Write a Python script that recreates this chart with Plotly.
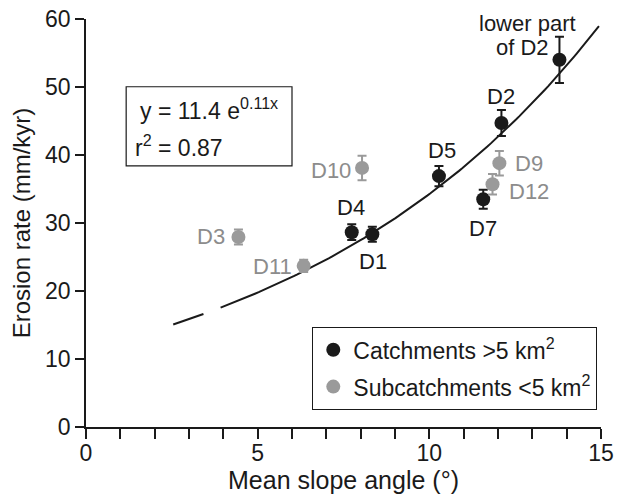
import numpy as np
import plotly.graph_objects as go

# ---- data ----
catch_names = ["lower part of D2", "D2", "D5", "D7", "D4", "D1"]
catch_x = [13.79, 12.10, 10.28, 11.57, 7.74, 8.34]
catch_y = [54.0, 44.7, 36.9, 33.5, 28.65, 28.35]
catch_err = [3.4, 1.9, 1.5, 1.4, 1.15, 1.1]

sub_names = ["D10", "D9", "D12", "D3", "D11"]
sub_x = [8.04, 12.04, 11.84, 4.44, 6.34]
sub_y = [38.1, 38.8, 35.7, 27.95, 23.7]
sub_err = [1.8, 1.8, 1.5, 1.1, 0.9]

fit_a = 11.4
fit_b = 0.11
fit_dash_x = [2.54, 3.42]
fit_solid_x = [3.92, 14.94]

x_tickvals = list(range(0, 16))
x_ticktext = ["0", "", "", "", "", "5", "", "", "", "", "10", "", "", "", "", "15"]
y_tickvals = [0, 10, 20, 30, 40, 50, 60]

FONT = "Liberation Sans, Arial, sans-serif"
BLACK = "#1a1a1a"
GRAY = "#9a9a9a"
GRAY_TXT = "#8c8c8c"

fig = go.Figure()

def curve(x0, x1):
    xs = np.linspace(x0, x1, 120)
    return xs, fit_a * np.exp(fit_b * xs)

xs, ys = curve(*fit_dash_x)
fig.add_trace(go.Scatter(x=xs, y=ys, mode="lines", line=dict(color=BLACK, width=2),
                         showlegend=False, hoverinfo="skip"))
xs, ys = curve(*fit_solid_x)
fig.add_trace(go.Scatter(x=xs, y=ys, mode="lines", line=dict(color=BLACK, width=2),
                         showlegend=False, hoverinfo="skip"))

fig.add_trace(go.Scatter(
    x=catch_x, y=catch_y, mode="markers", name="Catchments >5 km<sup>2</sup>",
    legendgroup="a",
    marker=dict(color=BLACK, size=14),
    error_y=dict(type="data", array=catch_err, color=BLACK, thickness=2, width=4.5),
))
fig.add_trace(go.Scatter(
    x=sub_x, y=sub_y, mode="markers", name="Subcatchments <5 km<sup>2</sup>",
    legendgroup="b",
    marker=dict(color=GRAY, size=14),
    error_y=dict(type="data", array=sub_err, color=GRAY, thickness=2, width=4.5),
))

# labels: (text, x, y, xanchor, xshift, yshift, color)
label_specs = [
    ("lower part", catch_x[0], catch_y[0], "center", -32, 36, BLACK),
    ("of D2", catch_x[0], catch_y[0], "right", -8, 12, BLACK),
    ("D2", catch_x[1], catch_y[1], "center", 0, 27, BLACK),
    ("D5", catch_x[2], catch_y[2], "center", 3, 26, BLACK),
    ("D7", catch_x[3], catch_y[3], "center", 0, -29, BLACK),
    ("D4", catch_x[4], catch_y[4], "center", -1, 25, BLACK),
    ("D1", catch_x[5], catch_y[5], "center", 1, -27, BLACK),
    ("D10", sub_x[0], sub_y[0], "right", -9, -3, GRAY_TXT),
    ("D9", sub_x[1], sub_y[1], "left", 14, 0, GRAY_TXT),
    ("D12", sub_x[2], sub_y[2], "left", 14, -7, GRAY_TXT),
    ("D3", sub_x[3], sub_y[3], "right", -11, 0, GRAY_TXT),
    ("D11", sub_x[4], sub_y[4], "right", -10, -1, GRAY_TXT),
]
for txt, x, y, xa, xsh, ysh, col in label_specs:
    fig.add_annotation(x=x, y=y, text=txt, showarrow=False, xanchor=xa, yanchor="middle",
                       xshift=xsh, yshift=ysh, font=dict(family=FONT, size=22, color=col))

# equation box
fig.add_shape(type="rect", xref="paper", yref="paper", x0=0.078, x1=0.40, y0=0.640, y1=0.834,
              line=dict(color=BLACK, width=1.2), fillcolor="white", layer="below")
fig.add_annotation(xref="paper", yref="paper", x=0.100, y=0.779, xanchor="left", yanchor="middle",
                   text=f"y = {fit_a} e<sup>{fit_b}x</sup>", showarrow=False,
                   font=dict(family=FONT, size=23, color=BLACK))
fig.add_annotation(xref="paper", yref="paper", x=0.092, y=0.688, xanchor="left", yanchor="middle",
                   text="r<sup>2</sup> = 0.87", showarrow=False,
                   font=dict(family=FONT, size=23, color=BLACK))

fig.update_layout(
    width=620, height=494,
    margin=dict(l=86, r=19, t=19, b=67),
    paper_bgcolor="white", plot_bgcolor="white",
    font=dict(family=FONT, color=BLACK),
    hovermode=False,
    legend=dict(x=0.439, y=0.245, xanchor="left", yanchor="top",
                bordercolor=BLACK, borderwidth=1.2, bgcolor="white",
                font=dict(family=FONT, size=23, color=BLACK), tracegroupgap=4,
                traceorder="grouped", itemwidth=30),
    xaxis=dict(range=[0, 15], tickvals=x_tickvals, ticktext=x_ticktext, automargin=False,
               showgrid=False, zeroline=False, showline=True, linecolor=BLACK, linewidth=1.5,
               ticks="outside", ticklen=10, tickwidth=1.5, tickcolor=BLACK,
               ticklabeloverflow="allow", ticklabelstandoff=-5,
               tickfont=dict(family=FONT, size=23, color=BLACK),
               title=dict(text="Mean slope angle (°)", font=dict(family=FONT, size=25, color=BLACK), standoff=2)),
    yaxis=dict(range=[0, 60], tickvals=y_tickvals, automargin=False,
               showgrid=False, zeroline=False, showline=True, linecolor=BLACK, linewidth=1.5,
               ticks="outside", ticklen=9, tickwidth=1.5, tickcolor=BLACK,
               ticklabeloverflow="allow",
               tickfont=dict(family=FONT, size=23, color=BLACK),
               title=dict(text="Erosion rate (mm/kyr)", font=dict(family=FONT, size=24, color=BLACK), standoff=8)),
)

# remove the default 8px page margin so the figure fills the 620x494 window exactly
fig.write_html("out.html", config={"displayModeBar": False},
               post_script="document.body.style.margin='0';document.body.style.overflow='hidden';")
